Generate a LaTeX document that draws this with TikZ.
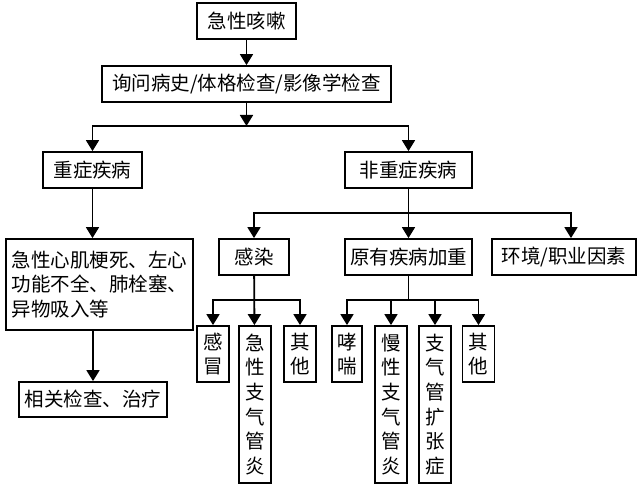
\documentclass[tikz,border=0pt]{standalone}
\usepackage{fontspec}
\newfontfamily\cjk{Noto Sans CJK SC}
\usetikzlibrary{arrows.meta}

\begin{document}
\begin{tikzpicture}[x=1pt, y=-1pt,
    box/.style={draw, line width=1.8pt, inner sep=0pt, align=center,
        font=\cjk\fontsize{19.5}{24.7}\selectfont},
    col/.style={box, minimum width=32pt},
    arr/.style={-{Triangle[width=13pt,length=11pt]}, line width=1.8pt}]
    \useasboundingbox (0,0) rectangle (641,489);

    % Top
    \node[box, minimum width=99pt, minimum height=36pt] (cough) at (246.5,21) {急性咳嗽};
    \node[box, minimum width=289pt, minimum height=36pt] (exam) at (246.5,84) {询问病史/体格检查/影像学检查};

    % Second level
    \node[box, minimum width=99pt, minimum height=36pt] (severe) at (92.5,170) {重症疾病};
    \node[box, minimum width=127pt, minimum height=36pt] (nonsevere) at (408.5,170) {非重症疾病};

    % Severe branch
    \node[box, minimum width=187pt, minimum height=91pt, align=left] (critical) at (99.5,284.5)
        {急性心肌梗死、左心\\功能不全、肺栓塞、\\异物吸入等};
    \node[box, minimum width=148pt, minimum height=35pt] (treat) at (93,399.5) {相关检查、治疗};

    % Non-severe branch
    \node[box, minimum width=70pt, minimum height=36pt] (infect) at (254,257) {感染};
    \node[box, minimum width=127pt, minimum height=36pt] (exacer) at (408.5,257) {原有疾病加重};
    \node[box, minimum width=144pt, minimum height=36pt] (env) at (564,257) {环境/职业因素};

    % Columns
    \node[col, minimum height=56pt] (cold) at (213,354) {感\\冒};
    \node[col, minimum height=157pt] (acuteb) at (255,404.5) {急\\性\\支\\气\\管\\炎};
    \node[col, minimum height=56pt] (other1) at (300,354) {其\\他};
    \node[col, minimum width=30pt, minimum height=56pt] (asthma) at (347,354) {哮\\喘};
    \node[col, minimum height=157pt] (chronb) at (391,404.5) {慢\\性\\支\\气\\管\\炎};
    \node[col, minimum height=157pt] (bronch) at (435,404.5) {支\\气\\管\\扩\\张\\症};
    \node[col, minimum height=56pt] (other2) at (478.5,354) {其\\他};

    % Connectors
    \coordinate (j1) at (246.5,126);
    \coordinate (j2) at (408.5,213);
    \coordinate (j3) at (254,300);
    \coordinate (j4) at (408.5,300);

    \draw[arr] (cough) -- (exam);
    \draw[arr] (exam) -- (j1);
    \draw[arr] (j1) -| (severe);
    \draw[arr] (j1) -| (nonsevere);

    \draw[arr] (severe) -- (severe |- critical.north);
    \draw[arr] (treat.north |- critical.south) -- (treat);

    \draw[arr] (nonsevere) -- (exacer);
    \draw[arr] (j2) -| (infect);
    \draw[arr] (j2) -| ([xshift=7pt]env.north);

    \draw[arr] (infect) -- (acuteb);
    \draw[arr] (j3) -| (cold);
    \draw[arr] (j3) -| (other1);

    \draw[line width=1.8pt] (exacer) -- (j4);
    \draw[arr] (j4) -| (asthma);
    \draw[arr] (j4) -| (chronb);
    \draw[arr] (j4) -| (bronch);
    \draw[arr] (j4) -| (other2);
\end{tikzpicture}
\end{document}
